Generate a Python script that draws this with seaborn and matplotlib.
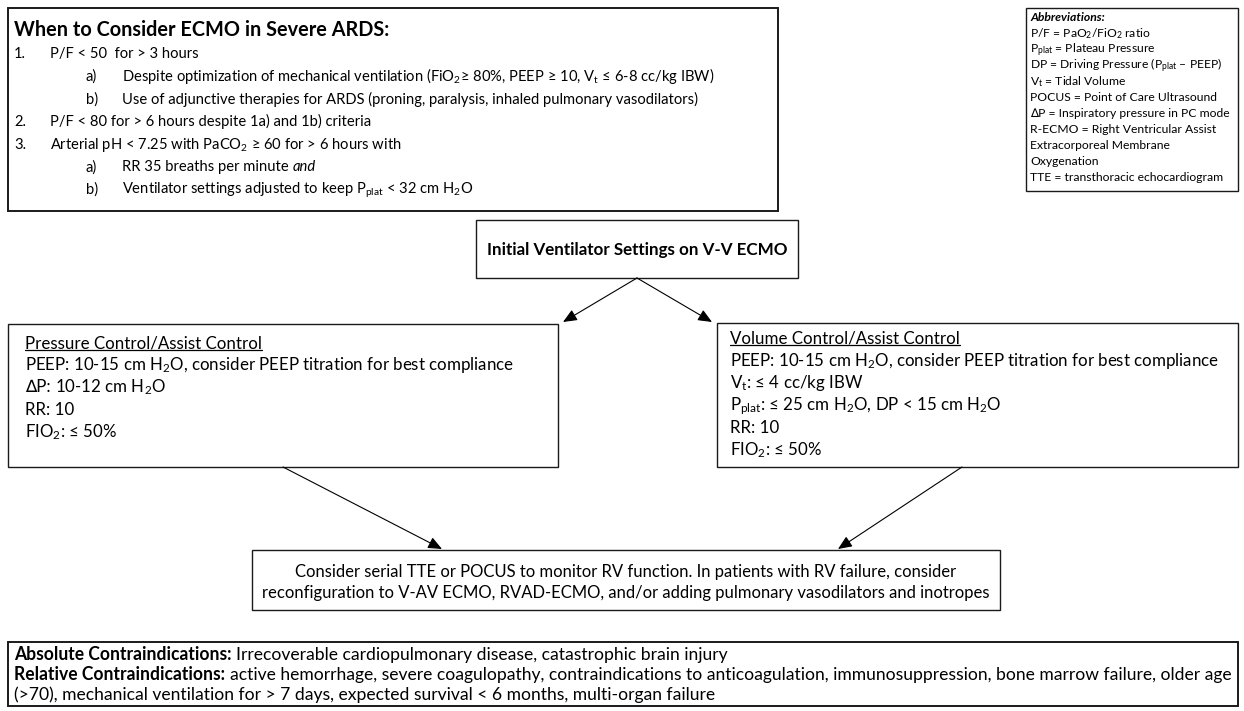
import matplotlib
matplotlib.use("Agg")
import matplotlib.pyplot as plt
import seaborn as sns
from matplotlib.patches import Rectangle

# ----------------------------
# TEXT CONTENT
# ----------------------------
criteria_title = "When to Consider ECMO in Severe ARDS:"
criteria_labels = ["1.", "a)", "b)", "2.", "3.", "a)", "b)"]
criteria_levels = [0, 1, 1, 0, 0, 1, 1]
criteria_runs = [
    [("P/F < 50  for > 3 hours", "normal")],
    [(r"Despite optimization of mechanical ventilation (FiO$_2$≥ 80%, PEEP ≥ 10, V$_\mathrm{t}$ ≤ 6-8 cc/kg IBW)", "normal")],
    [("Use of adjunctive therapies for ARDS (proning, paralysis, inhaled pulmonary vasodilators)", "normal")],
    [("P/F < 80 for > 6 hours despite 1a) and 1b) criteria", "normal")],
    [(r"Arterial pH < 7.25 with PaCO$_2$ ≥ 60 for > 6 hours with", "normal")],
    [("RR 35 breaths per minute", "normal"), ("and", "italic")],
    [(r"Ventilator settings adjusted to keep P$_\mathrm{plat}$ < 32 cm H$_2$O", "normal")],
]

abbrev_title = "Abbreviations:"
abbrev_lines = [
    r"P/F = PaO$_2$/FiO$_2$ ratio",
    r"P$_\mathrm{plat}$ = Plateau Pressure",
    r"DP = Driving Pressure (P$_\mathrm{plat}$ – PEEP)",
    r"V$_\mathrm{t}$ = Tidal Volume",
    "POCUS = Point of Care Ultrasound",
    "∆P = Inspiratory pressure in PC mode",
    "R-ECMO = Right Ventricular Assist",
    "Extracorporeal Membrane",
    "Oxygenation",
    "TTE = transthoracic echocardiogram",
]

initial_title = "Initial Ventilator Settings on V-V ECMO"

pc_title = "Pressure Control/Assist Control"
pc_runs = [
    [(r"PEEP: 10-15 cm H$_2$O, consider PEEP titration for best compliance", "normal")],
    [("∆P:", "normal"), (r"10-12 cm H$_2$O", "normal")],
    [("RR: 10", "normal")],
    [(r"FIO$_2$: ≤ 50%", "normal")],
]

vc_title = "Volume Control/Assist Control"
vc_runs = [
    [(r"PEEP: 10-15 cm H$_2$O, consider PEEP titration for best compliance", "normal")],
    [(r"V$_\mathrm{t}$: ≤ 4 cc/kg IBW", "normal")],
    [(r"P$_\mathrm{plat}$: ≤ 25 cm H$_2$O, DP < 15 cm H$_2$O", "normal")],
    [("RR: 10", "normal")],
    [(r"FIO$_2$: ≤ 50%", "normal")],
]

monitor_lines = [
    "Consider serial TTE or POCUS to monitor RV function. In patients with RV failure, consider",
    "reconfiguration to V-AV ECMO, RVAD-ECMO, and/or adding pulmonary vasodilators and inotropes",
]

contra_runs = [
    [("Absolute Contraindications:", "bold"),
     ("Irrecoverable cardiopulmonary disease, catastrophic brain injury", "normal")],
    [("Relative Contraindications:", "bold"),
     ("active hemorrhage, severe coagulopathy, contraindications to anticoagulation, "
      "immunosuppression, bone marrow failure, older age", "normal")],
    [("(>70), mechanical ventilation for > 7 days, expected survival < 6 months, multi-organ failure", "normal")],
]

# ----------------------------
# STYLE
# ----------------------------
sns.set_theme(style="white")
plt.rcParams['font.family'] = ['Lato', 'DejaVu Sans']
plt.rcParams['mathtext.fontset'] = 'custom'
plt.rcParams['mathtext.rm'] = 'Lato'
plt.rcParams['mathtext.it'] = 'Lato'
plt.rcParams['mathtext.bf'] = 'Lato:bold'

STYLES = {
    "normal": {},
    "bold": {"fontweight": "bold"},
    "italic": {"fontstyle": "italic"},
    "bolditalic": {"fontweight": "bold", "fontstyle": "italic"},
}
EDGE = "#1a1a1a"
W, H = 1244, 711

fig = plt.figure(figsize=(W / 100, H / 100), dpi=100)
ax = fig.add_axes([0, 0, 1, 1])
ax.set_xlim(0, W)
ax.set_ylim(H, 0)
ax.axis('off')
sns.despine(ax=ax, left=True, bottom=True)
renderer = fig.canvas.get_renderer()


def text_width(s, size, style="normal"):
    t = ax.text(0, 0, s, fontsize=size, **STYLES[style])
    w = t.get_window_extent(renderer).width
    t.remove()
    return w


def runs_width(runs, size):
    gap = text_width("a a", size) - text_width("aa", size)
    return sum(text_width(s, size, st) for s, st in runs) + gap * (len(runs) - 1)


def fit_size(runs, target, base=10.0):
    return base * target / runs_width(runs, base)


def draw_runs(x, yc, runs, size, ha="left", underline=False):
    em = size * 100 / 72
    yb = yc + 0.36 * em
    gap = text_width("a a", size) - text_width("aa", size)
    total = runs_width(runs, size)
    cur = x - total / 2 if ha == "center" else x
    for s, st in runs:
        t = ax.text(cur, yb, s, fontsize=size, va="baseline", ha="left",
                    color="black", **STYLES[st])
        w = t.get_window_extent(renderer).width
        if underline:
            ax.plot([cur, cur + w], [yb + 0.13 * em] * 2, color="black", lw=0.9)
        cur += w + gap


def box(x0, y0, x1, y1, lw=1.0):
    ax.add_patch(Rectangle((x0, y0), x1 - x0, y1 - y0, fill=False,
                           edgecolor=EDGE, lw=lw))


def arrow(p0, p1):
    ax.annotate("", xy=p1, xytext=p0,
                arrowprops=dict(arrowstyle="-|>,head_length=0.7,head_width=0.3",
                                lw=0.8, color="black", shrinkA=0, shrinkB=0,
                                mutation_scale=12))


# ----------------------------
# FONT SIZES (fitted to reference line widths)
# ----------------------------
body_size = fit_size(pc_runs[0], 488)
top_size = fit_size(criteria_runs[1], 591)
title_size = fit_size([(criteria_title, "bold")], 375)
initial_size = fit_size([(initial_title, "bold")], 300)
abbrev_size = fit_size([(abbrev_lines[5], "normal")], 200)
monitor_size = fit_size([(monitor_lines[1], "normal")], 730)
contra_size = fit_size(contra_runs[1], 1218)

# ----------------------------
# TOP CRITERIA BOX
# ----------------------------
box(8, 8, 778, 211, lw=1.4)
draw_runs(14, 29, [(criteria_title, "bold")], title_size)
for i, (lab, lev, runs) in enumerate(zip(criteria_labels, criteria_levels, criteria_runs)):
    yc = 53 + i * 22.6
    draw_runs(14 + lev * 72, yc, [(lab, "normal")], top_size)
    draw_runs(50 + lev * 72, yc, runs, top_size)

# ----------------------------
# ABBREVIATIONS BOX
# ----------------------------
box(1026, 8, 1238, 191, lw=1.0)
draw_runs(1030, 17, [(abbrev_title, "bolditalic")], abbrev_size)
for i, line in enumerate(abbrev_lines):
    draw_runs(1030, 33 + i * 16.0, [(line, "normal")], abbrev_size)

# ----------------------------
# FLOW
# ----------------------------
box(476, 220, 798, 278)
draw_runs(637, 249, [(initial_title, "bold")], initial_size, ha="center")

box(8, 324, 558, 467)
draw_runs(25, 342, [(pc_title, "normal")], body_size, underline=True)
for i, runs in enumerate(pc_runs):
    draw_runs(25, 364 + i * 22.4, runs, body_size)

box(717, 323, 1238, 467)
draw_runs(730, 337, [(vc_title, "normal")], body_size, underline=True)
for i, runs in enumerate(vc_runs):
    draw_runs(730, 359.5 + i * 22.4, runs, body_size)

arrow((637, 278), (563, 322))
arrow((637, 278), (712, 322))

box(252, 550, 1000, 610)
for i, line in enumerate(monitor_lines):
    draw_runs(626, 571 + i * 21, [(line, "normal")], monitor_size, ha="center")

arrow((283, 467), (442, 549))
arrow((962, 467), (838, 549))

# ----------------------------
# CONTRAINDICATIONS BOX
# ----------------------------
box(8, 642, 1238, 706, lw=1.4)
for i, runs in enumerate(contra_runs):
    draw_runs(14, 654 + i * 20, runs, contra_size)

fig.savefig("out.png", dpi=100, facecolor="white")
